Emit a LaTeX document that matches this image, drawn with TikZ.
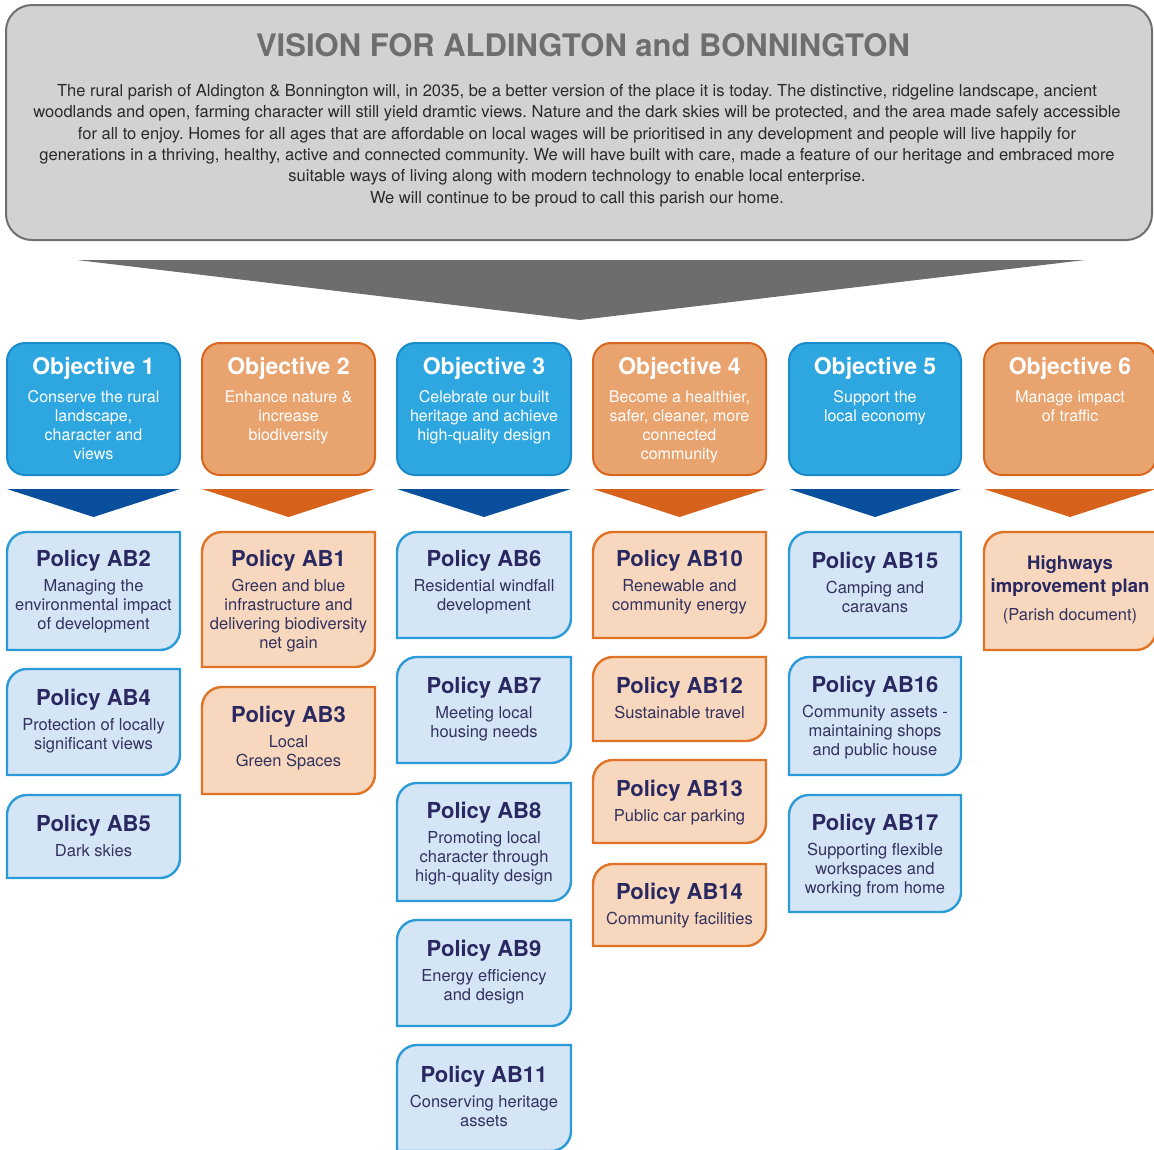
\documentclass[tikz,border=0pt]{standalone}
\usepackage{fontspec}
\setmainfont{TeX Gyre Heros}
\definecolor{visfill}{HTML}{D3D2D3}
\definecolor{visline}{HTML}{707070}
\definecolor{vistitle}{HTML}{6E6E6E}
\definecolor{vistext}{HTML}{2A2A2A}
\definecolor{bigarrow}{HTML}{6D6D6D}
\definecolor{objbfill}{HTML}{2EA7E0}
\definecolor{objbline}{HTML}{1A8ACB}
\definecolor{objofill}{HTML}{E8A36E}
\definecolor{objoline}{HTML}{D8661F}
\definecolor{chevb}{HTML}{0A4F9C}
\definecolor{chevo}{HTML}{D6621B}
\definecolor{polbfill}{HTML}{D4E5F6}
\definecolor{polbline}{HTML}{2B9BD8}
\definecolor{polofill}{HTML}{F7D7BD}
\definecolor{pololine}{HTML}{E07325}
\definecolor{poltitle}{HTML}{2A2860}
\definecolor{poltextc}{HTML}{33325E}
\tikzset{
  objbasic/.style={rectangle, rounded corners=18pt, line width=2pt, inner sep=0pt},
  objb/.style={objbasic, fill=objbfill, draw=objbline},
  objo/.style={objbasic, fill=objofill, draw=objoline},
  objtitle/.style={inner sep=0pt, text=white, font=\fontsize{23}{25}\selectfont\bfseries},
  objbody/.style={inner sep=0pt, text=white, align=center, font=\fontsize{16}{19}\selectfont},
  chevbfill/.style={fill=chevb},
  chevofill/.style={fill=chevo},
  polb/.style={fill=polbfill, draw=polbline, line width=2.4pt},
  polo/.style={fill=polofill, draw=pololine, line width=2.4pt},
  poltext/.style={inner sep=0pt, align=center, text=poltextc, font=\fontsize{16.5}{19}\selectfont},
}
\newcommand\pti[1]{{\fontsize{22}{24}\selectfont\bfseries\color{poltitle}#1}}
\newcommand\objbox[6]{%
  \node[obj#2, minimum width={(#4-#3)*1pt}, minimum height=132pt] (#1) at ({(#3+#4)/2},-409) {};
  \node[objtitle, anchor=base] (#1t) at ({(#3+#4)/2},-374) {#5};
  \node[objbody, anchor=north] (#1b) at ({(#3+#4)/2},-390.5) {#6};
  \fill[chev#2fill] (#3,-489) -- (#4,-489) -- ({(#3+#4)/2},-517) -- cycle;
}
% #8: offset of the text top below the box top
\newcommand\polbox[8]{%
  \draw[pol#2] ({#3+20},{-#4}) -- (#5,{-#4}) -- (#5,{-#6+20})
     arc[start angle=0,end angle=-90,radius=20] -- (#3,{-#6}) -- (#3,{-#4-20})
     arc[start angle=180,end angle=90,radius=20] -- cycle;
  \node[poltext, anchor=north] (#1) at ({(#3+#5)/2},{-#4-#8}) {#7};
}
\begin{document}
\frenchspacing
\begin{tikzpicture}[x=1pt,y=1pt]
\clip (0,0) rectangle (1154,-1149);
\fill[white] (0,0) rectangle (1154,-1149);
% vision box
\draw[fill=visfill, draw=visline, line width=2pt, rounded corners=26pt] (6,-5) rectangle (1152,-240);
\node[inner sep=0pt, text=vistitle, font=\fontsize{31}{33}\selectfont\bfseries, anchor=base] (vtitle) at (583,-56) {VISION FOR ALDINGTON and BONNINGTON};
\node[inner sep=0pt, text=vistext, align=center, font=\fontsize{16.55}{21.4}\selectfont, anchor=north] (vtext) at (577,-84) {The rural parish of Aldington \& Bonnington will, in 2035, be a better version of the place it is today. The distinctive, ridgeline landscape, ancient\\
woodlands and open, farming character will still yield dramtic views. Nature and the dark skies will be protected, and the area made safely accessible\\
for all to enjoy. Homes for all ages that are affordable on local wages will be prioritised in any development and people will live happily for\\
generations in a thriving, healthy, active and connected community. We will have built with care, made a feature of our heritage and embraced more\\
suitable ways of living along with modern technology to enable local enterprise.\\
We will continue to be proud to call this parish our home.};
% big arrow
\fill[bigarrow] (77,-260) -- (1085,-260) -- (580,-320) -- cycle;
% objectives
\objbox{obj1}{b}{7}{180}{Objective 1}{Conserve the rural\\landscape,\\character and\\views}
\objbox{obj2}{o}{202}{375}{Objective 2}{Enhance nature \&\\increase\\biodiversity}
\objbox{obj3}{b}{397}{571}{Objective 3}{Celebrate our built\\heritage and achieve\\high-quality design}
\objbox{obj4}{o}{593}{766}{Objective 4}{Become a healthier,\\safer, cleaner, more\\connected\\community}
\objbox{obj5}{b}{789}{961}{Objective 5}{Support the\\local economy}
\objbox{obj6}{o}{984}{1156}{Objective 6}{Manage impact\\of traffic}
% column 1
\polbox{ab2}{b}{7}{532}{180}{650}{\pti{Policy AB2}\\[6pt]Managing the\\environmental impact\\of development}{18}
\polbox{ab4}{b}{7}{669}{180}{775}{\pti{Policy AB4}\\[6pt]Protection of locally\\significant views}{20}
\polbox{ab5}{b}{7}{795}{180}{878}{\pti{Policy AB5}\\[6pt]Dark skies}{20}
% column 2
\polbox{ab1}{o}{202}{532}{375}{667}{\pti{Policy AB1}\\[6pt]Green and blue\\infrastructure and\\delivering biodiversity\\net gain}{18}
\polbox{ab3}{o}{202}{687}{375}{794}{\pti{Policy AB3}\\[6pt]Local\\Green Spaces}{19}
% column 3
\polbox{ab6}{b}{397}{532}{571}{638}{\pti{Policy AB6}\\[6pt]Residential windfall\\development}{18}
\polbox{ab7}{b}{397}{657}{571}{763}{\pti{Policy AB7}\\[6pt]Meeting local\\housing needs}{20}
\polbox{ab8}{b}{397}{783}{571}{901}{\pti{Policy AB8}\\[6pt]Promoting local\\character through\\high-quality design}{19}
\polbox{ab9}{b}{397}{920}{571}{1026}{\pti{Policy AB9}\\[6pt]Energy efficiency\\and design}{20}
\polbox{ab11}{b}{397}{1045}{571}{1151}{\pti{Policy AB11}\\[6pt]Conserving heritage\\assets}{21}
% column 4
\polbox{ab10}{o}{593}{532}{766}{638}{\pti{Policy AB10}\\[6pt]Renewable and\\community energy}{18}
\polbox{ab12}{o}{593}{657}{766}{741}{\pti{Policy AB12}\\[6pt]Sustainable travel}{20}
\polbox{ab13}{o}{593}{760}{766}{843}{\pti{Policy AB13}\\[6pt]Public car parking}{20}
\polbox{ab14}{o}{593}{864}{766}{946}{\pti{Policy AB14}\\[6pt]Community facilities}{19}
% column 5
\polbox{ab15}{b}{789}{532}{961}{638}{\pti{Policy AB15}\\[6pt]Camping and\\caravans}{20}
\polbox{ab16}{b}{789}{657}{961}{775}{\pti{Policy AB16}\\[6pt]Community assets -\\maintaining shops\\and public house}{19}
\polbox{ab17}{b}{789}{795}{961}{912}{\pti{Policy AB17}\\[6pt]Supporting flexible\\workspaces and\\working from home}{19}
% column 6
\polbox{hip}{o}{984}{532}{1156}{650}{{\fontsize{18.5}{22}\selectfont\bfseries\color{poltitle}Highways}\\[4pt]{\fontsize{18.5}{22}\selectfont\bfseries\color{poltitle}improvement plan}\\[9pt](Parish document)}{23.5}
\end{tikzpicture}
\end{document}
